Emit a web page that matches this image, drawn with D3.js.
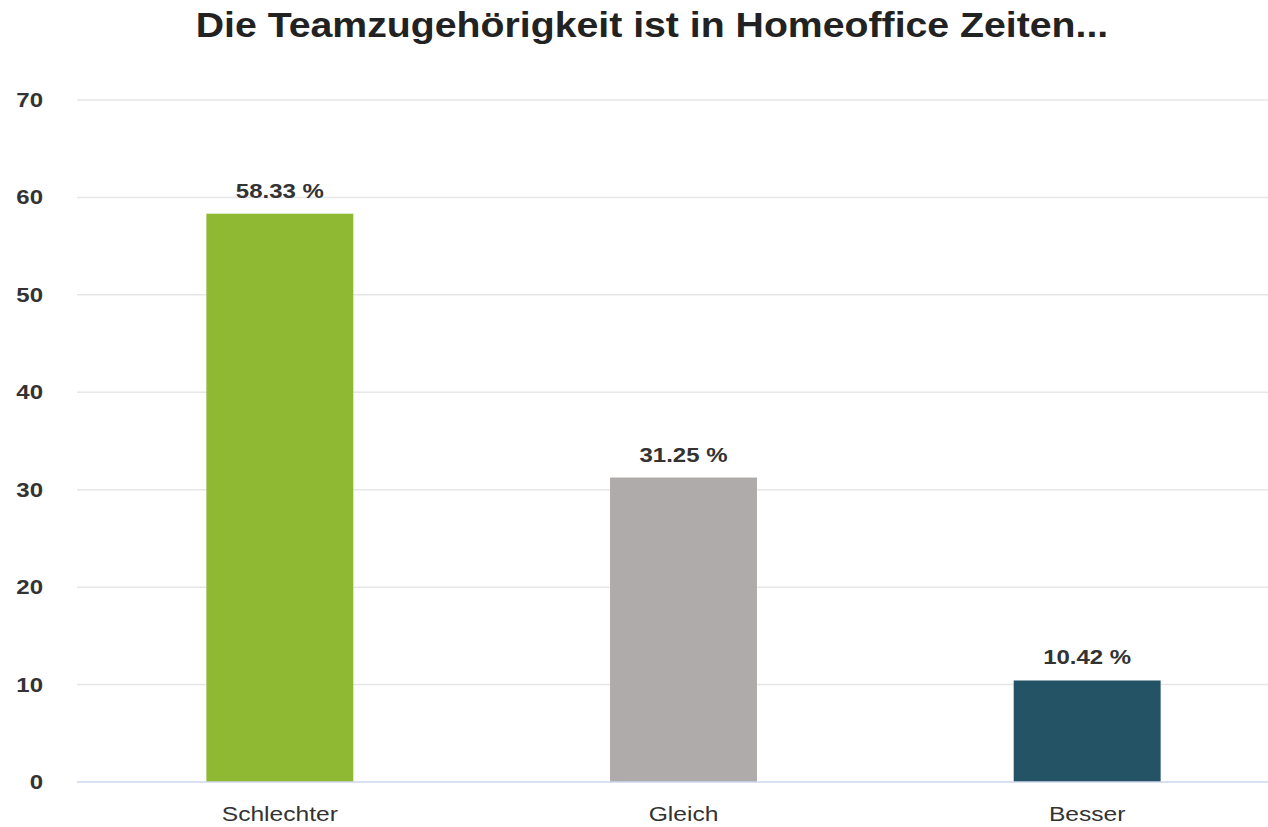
<!DOCTYPE html>
<html>
<head>
<meta charset="utf-8">
<script src="https://cdn.jsdelivr.net/npm/d3@7"></script>
<style>
  body { margin: 0; background: #fff; }
  svg { display: block; font-family: "Liberation Sans", Arial, sans-serif; }
</style>
</head>
<body>
<svg width="1268" height="827"></svg>
<script>
const categories = ["Schlechter", "Gleich", "Besser"];
const values = [58.33, 31.25, 10.42];
const labels = ["58.33 %", "31.25 %", "10.42 %"];
const colors = ["#8fb833", "#afabaa", "#245366"];
const yTicks = [0, 10, 20, 30, 40, 50, 60, 70];
const title = "Die Teamzugehörigkeit ist in Homeoffice Zeiten...";

const svg = d3.select("svg");
const W = +svg.attr("width");

// Plotbereich
const plot = { left: 77, right: 1289, top: 100, bottom: 782 };

const x = d3.scaleBand().domain(categories).range([plot.left + 1, plot.right]).padding(0);
const y = d3.scaleLinear().domain([0, 70]).range([plot.bottom, plot.top]);
const barW = x.bandwidth() * 0.364;
const cx = c => x(c) + x.bandwidth() / 2;

// Schrift im Original ist etwas in die Breite gezogen
const stretch = 1.2;

// Titel
svg.append("text")
    .attr("transform", `translate(652,37) scale(1.09,1)`)
    .attr("text-anchor", "middle")
    .attr("font-size", 36)
    .attr("font-weight", "bold")
    .attr("fill", "#222")
    .text(title);

// Gitterlinien
svg.append("g")
    .selectAll("line")
    .data(yTicks.filter(d => d > 0))
    .enter()
    .append("line")
    .attr("x1", plot.left)
    .attr("x2", W)
    .attr("y1", d => y(d))
    .attr("y2", d => y(d))
    .attr("stroke", "#e6e6e6")
    .attr("stroke-width", 1.5);

// Y-Achse Beschriftung
svg.append("g")
    .selectAll("text")
    .data(yTicks)
    .enter()
    .append("text")
    .attr("transform", d => `translate(43,${y(d) + 7}) scale(${stretch},1)`)
    .attr("text-anchor", "end")
    .attr("font-size", 20)
    .attr("font-weight", "bold")
    .attr("fill", "#333")
    .text(d => d);

// Balken
svg.append("g")
    .selectAll("rect")
    .data(values)
    .enter()
    .append("rect")
    .attr("x", (_, i) => cx(categories[i]) - barW / 2)
    .attr("y", d => y(d))
    .attr("width", barW)
    .attr("height", d => y(0) - y(d))
    .attr("fill", (_, i) => colors[i]);

// Nulllinie
svg.append("line")
    .attr("x1", plot.left)
    .attr("x2", W)
    .attr("y1", y(0))
    .attr("y2", y(0))
    .attr("stroke", "#ccd6eb")
    .attr("stroke-width", 1.5);

// Datenbeschriftung
svg.append("g")
    .selectAll("text")
    .data(values)
    .enter()
    .append("text")
    .attr("transform", (d, i) => `translate(${cx(categories[i])},${y(d) - 16}) scale(${stretch},1)`)
    .attr("text-anchor", "middle")
    .attr("font-size", 20)
    .attr("font-weight", "bold")
    .attr("fill", "#333")
    .text((_, i) => labels[i]);

// X-Achse Beschriftung
svg.append("g")
    .selectAll("text")
    .data(categories)
    .enter()
    .append("text")
    .attr("transform", d => `translate(${cx(d)},821) scale(1.23,1)`)
    .attr("text-anchor", "middle")
    .attr("font-size", 20)
    .attr("fill", "#333")
    .text(d => d);
</script>
</body>
</html>
